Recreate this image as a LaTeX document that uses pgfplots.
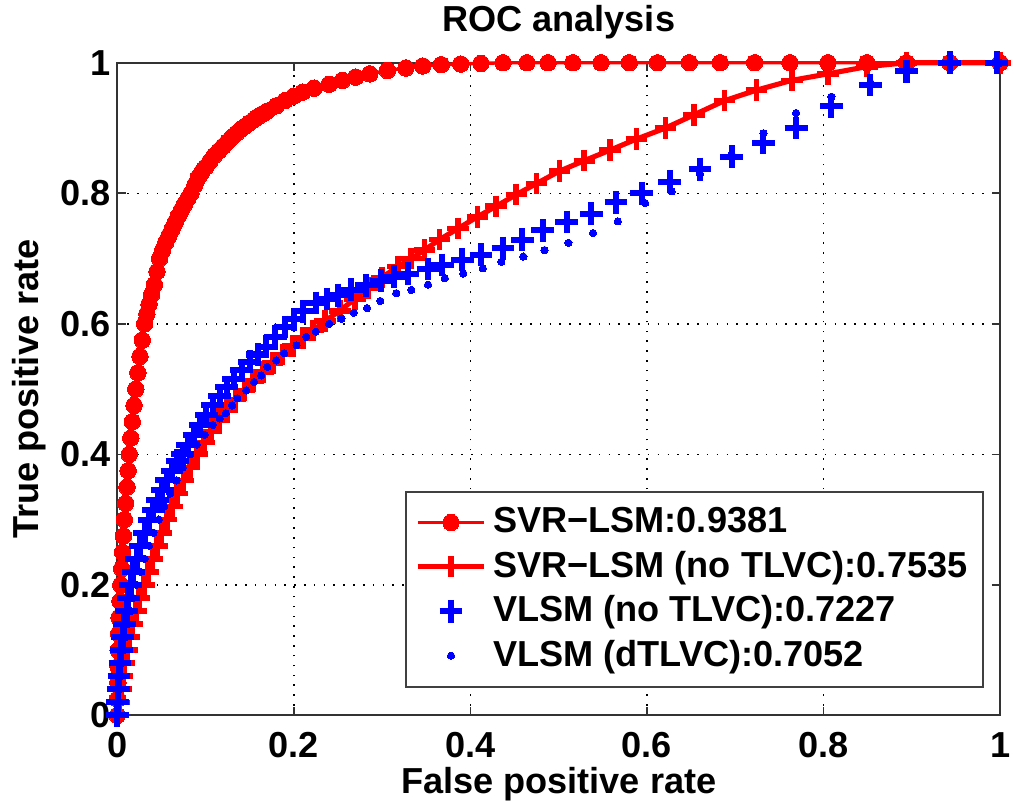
\documentclass[border=0pt]{standalone}
\usepackage{fontspec}
\setmainfont{Liberation Sans}
\usepackage{pgfplots}
\pgfplotsset{compat=1.18}
\pgfplotsset{
  legimg/.style={legend image code/.code={\draw[mark repeat=2,mark phase=2,##1] plot coordinates {(0pt,0pt) (10.5pt,0pt) (21pt,0pt)};}},
}
\newcommand{\figfont}{\fontsize{11.4}{13.8}\selectfont\bfseries}

\begin{document}
\begin{tikzpicture}
\begin{axis}[
  name=ax,
  scale only axis, width=278.5pt, height=205.9pt,
  xmin=0, xmax=1, ymin=0, ymax=1,
  xtick={0,0.2,...,1}, ytick={0,0.2,...,1},
  tick align=inside, tick pos=both, major tick length=2.6pt,
  axis line style={black!80, line width=0.6pt},
  tick style={black!80, line width=0.5pt},
  grid=major,
  major grid style={black, line width=0.45pt, dash pattern=on 0.5pt off 2.6pt},
  /pgf/number format/assume math mode=true,
  ticklabel style={font=\figfont},
  xticklabel style={yshift=-1.8pt},
  yticklabel style={xshift=1.5pt},
  label style={font=\figfont},
  xlabel={False positive rate},
  ylabel={True positive rate},
  xlabel style={at={(axis description cs:0.5,-0.105)}, anchor=center, inner sep=0pt},
  ylabel style={at={(axis description cs:-0.0998,0.5)}, anchor=center, inner sep=0pt},
  clip=false,
  legend style={at={(axis description cs:0.982,0.042)}, anchor=south east,
    draw=black!75, line width=0.6pt, font=\figfont,
    inner xsep=3pt, inner ysep=3pt, row sep=0.3pt,
    /tikz/every even column/.append style={column sep=2.5pt}},
  legend cell align=left,
]

% SVR-LSM
\addplot[color=red, line width=1.1pt, mark=*, mark size=2.6pt,
  mark options={solid, fill=red, draw=red, line width=0pt}, legimg] coordinates {
(0,0) (0.0003,0.025) (0.0006,0.05) (0.0008,0.075) (0.001,0.1) (0.0015,0.125)
(0.002,0.15) (0.003,0.175) (0.004,0.2) (0.005,0.225) (0.006,0.25) (0.007,0.275)
(0.008,0.3) (0.0095,0.325) (0.011,0.35) (0.0123,0.375) (0.0136,0.4) (0.0153,0.425)
(0.017,0.45) (0.019,0.475) (0.021,0.5) (0.0233,0.525) (0.0257,0.55) (0.0283,0.575)
(0.031,0.6) (0.0335,0.615) (0.036,0.63) (0.039,0.645) (0.042,0.66) (0.045,0.68)
(0.048,0.70) (0.0515,0.713) (0.055,0.725) (0.0585,0.735) (0.062,0.745) (0.0655,0.755)
(0.069,0.765) (0.0725,0.774) (0.076,0.783) (0.08,0.792) (0.0835,0.8) (0.088,0.813)
(0.092,0.825) (0.096,0.833) (0.1,0.84) (0.105,0.849) (0.11,0.858) (0.115,0.865)
(0.12,0.872) (0.125,0.879) (0.13,0.886) (0.135,0.892) (0.14,0.898) (0.145,0.903)
(0.15,0.908) (0.155,0.913) (0.16,0.918) (0.165,0.922) (0.17,0.926) (0.18,0.934)
(0.19,0.942) (0.2,0.949) (0.21,0.955) (0.223,0.961) (0.24,0.967) (0.255,0.973)
(0.27,0.978) (0.286,0.983) (0.306,0.988) (0.327,0.992) (0.346,0.995) (0.367,0.997)
(0.389,0.998) (0.412,0.999) (0.437,1) (0.464,1) (0.488,1) (0.516,1) (0.548,1)
(0.58,1) (0.612,1) (0.648,1) (0.683,1) (0.722,1) (0.762,1) (0.805,1) (0.849,1)
(0.894,1) (0.943,1) (1,1)
};

% SVR-LSM (no TLVC)
\addplot[color=red, line width=1.6pt, mark=+, mark size=3.4pt,
  mark options={solid, line width=1.8pt}, legimg] coordinates {
(0,0) (0.002,0.02) (0.004,0.04) (0.006,0.06) (0.008,0.08) (0.011,0.1)
(0.014,0.12) (0.017,0.14) (0.021,0.16) (0.025,0.18) (0.03,0.2) (0.035,0.22)
(0.04,0.24) (0.045,0.26) (0.05,0.28) (0.056,0.3) (0.062,0.32) (0.068,0.34)
(0.075,0.36) (0.082,0.38) (0.09,0.4) (0.098,0.418) (0.106,0.435) (0.115,0.452)
(0.124,0.468) (0.134,0.484) (0.144,0.498) (0.154,0.512) (0.165,0.526) (0.176,0.54)
(0.187,0.553) (0.199,0.566) (0.21,0.578) (0.222,0.59) (0.235,0.604) (0.252,0.62)
(0.269,0.638) (0.284,0.655) (0.3,0.671) (0.318,0.688) (0.333,0.70) (0.348,0.713)
(0.365,0.729) (0.386,0.746) (0.408,0.764) (0.429,0.78) (0.452,0.798) (0.475,0.815)
(0.501,0.834) (0.529,0.85) (0.558,0.866) (0.588,0.883) (0.621,0.9) (0.653,0.92)
(0.688,0.942) (0.724,0.958) (0.764,0.973) (0.805,0.983) (0.849,0.994) (0.894,1)
(0.943,1) (1,1)
};

% VLSM (no TLVC)
\addplot[color=blue, only marks, mark=+, mark size=3.6pt,
  mark options={line width=1.9pt}, legimg] coordinates {
(0,0) (0.0005,0.02) (0.001,0.04) (0.002,0.06) (0.003,0.08) (0.0045,0.1)
(0.006,0.12) (0.008,0.14) (0.0105,0.16) (0.0125,0.18) (0.015,0.2) (0.018,0.22)
(0.022,0.24) (0.026,0.26) (0.031,0.28) (0.036,0.3) (0.041,0.315) (0.046,0.33)
(0.051,0.345) (0.056,0.36) (0.062,0.375) (0.068,0.39) (0.074,0.4) (0.08,0.415)
(0.087,0.43) (0.094,0.445) (0.101,0.46) (0.108,0.475) (0.116,0.49) (0.124,0.503)
(0.132,0.516) (0.141,0.529) (0.15,0.542) (0.159,0.553) (0.169,0.565) (0.179,0.58)
(0.19,0.595) (0.2,0.607) (0.21,0.619) (0.225,0.632) (0.238,0.638) (0.25,0.644)
(0.265,0.652) (0.282,0.659) (0.299,0.666) (0.314,0.672) (0.329,0.677) (0.352,0.684)
(0.368,0.69) (0.391,0.698) (0.412,0.706) (0.437,0.716) (0.459,0.729) (0.482,0.743)
(0.509,0.756) (0.537,0.769) (0.565,0.786) (0.594,0.8) (0.626,0.818) (0.66,0.837)
(0.696,0.856) (0.732,0.877) (0.769,0.9) (0.809,0.933) (0.853,0.966) (0.894,0.987)
(0.943,1) (0.996,1)
};

% VLSM (dTLVC)
\addplot[color=blue, only marks, mark=*, mark size=1.15pt,
  mark options={fill=blue, draw=blue, line width=0pt}, legimg] coordinates {
(0,0) (0.001,0.02) (0.002,0.04) (0.003,0.06) (0.005,0.08) (0.007,0.1)
(0.009,0.12) (0.012,0.14) (0.015,0.16) (0.018,0.18) (0.022,0.2) (0.026,0.22)
(0.031,0.24) (0.036,0.26) (0.041,0.28) (0.047,0.3) (0.053,0.32) (0.06,0.34)
(0.067,0.36) (0.074,0.38) (0.082,0.4) (0.09,0.415) (0.099,0.43) (0.108,0.445)
(0.116,0.455) (0.123,0.463) (0.13,0.475) (0.136,0.486) (0.146,0.498) (0.155,0.511)
(0.163,0.521) (0.17,0.534) (0.18,0.544) (0.189,0.555) (0.203,0.567) (0.214,0.58)
(0.225,0.588) (0.24,0.6) (0.254,0.608) (0.268,0.617) (0.283,0.624) (0.298,0.635)
(0.316,0.647) (0.333,0.652) (0.352,0.66) (0.371,0.67) (0.392,0.677) (0.414,0.685)
(0.435,0.695) (0.46,0.703) (0.484,0.713) (0.511,0.724) (0.539,0.739) (0.567,0.757)
(0.598,0.785) (0.628,0.803) (0.66,0.83) (0.696,0.86) (0.732,0.892) (0.769,0.923)
(0.809,0.948) (0.853,0.97) (0.894,0.99) (0.943,1) (1,1)
};

\legend{SVR−LSM:0.9381, SVR−LSM (no TLVC):0.7535, VLSM (no TLVC):0.7227, VLSM (dTLVC):0.7052}
\end{axis}
% title
\node[font=\figfont, anchor=center, inner sep=0pt] at ([yshift=12.95pt]ax.north) {ROC analysis};
\pgfresetboundingbox
\path ([xshift=-37.0pt,yshift=-28.1pt]ax.south west)
  rectangle ([xshift=4.4pt,yshift=19.8pt]ax.north east);
\end{tikzpicture}
\end{document}
